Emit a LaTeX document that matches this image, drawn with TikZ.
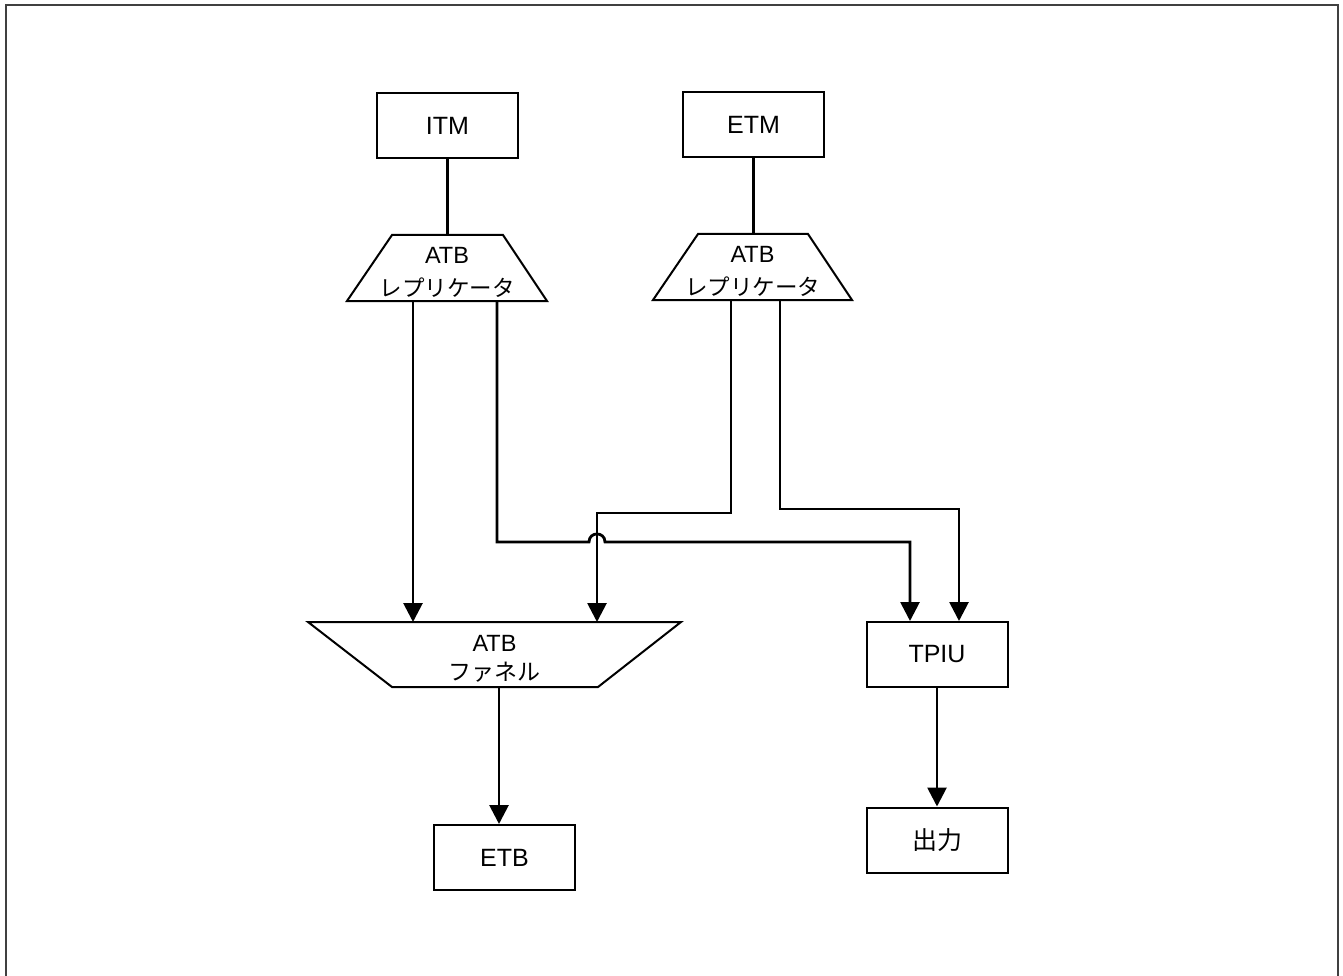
\documentclass[tikz,border=0pt]{standalone}
\usepackage{fontspec}
\setmainfont{Liberation Sans}
\newfontfamily\jpfont{Noto Sans CJK JP}
\usetikzlibrary{calc,arrows.meta}
\begin{document}
\begin{tikzpicture}[x=1pt,y=-1pt,
  box/.style={draw,line width=2pt,minimum width=141pt,minimum height=65pt,inner sep=0pt,font=\fontsize{25}{30}\selectfont},
  trap/.style={inner sep=0pt,align=center,font=\fontsize{23.5}{33}\selectfont},
  outline/.style={line width=2pt,line join=miter},
  conn/.style={line width=2.8pt},
  arr/.style={conn,-{Triangle[width=19pt,length=19pt]}}]
\useasboundingbox (0,0) rectangle (1343,976);
\draw[line width=2pt,color=black!75] (6,980) -- (6,5) -- (1338,5) -- (1338,980);
% nodes
\node[trap] (rep1) at (447,272) {ATB\\{\jpfont\fontsize{22.5}{33}\selectfont レプリケータ}};
\node[trap] (rep2) at (752.5,271) {ATB\\{\jpfont\fontsize{22.5}{33}\selectfont レプリケータ}};
\node[trap,font=\fontsize{23.5}{29}\selectfont] (funnel) at (494.5,659) {ATB\\{\jpfont\fontsize{23}{29}\selectfont ファネル}};
\node[box] (itm) at (447.5,126) {ITM};
\node[box] (etm) at (753.5,125) {ETM};
\node[box] (tpiu) at (937,654) {TPIU};
\node[box,font=\jpfont\fontsize{25}{30}\selectfont] (out) at (937,840) {出力};
\node[box] (etb) at (504.5,857.5) {ETB};
% trapezoid outlines
\draw[outline] ($(rep1.center)+(-55,-37)$) coordinate (rep1top) -- ($(rep1.center)+(56,-37)$) -- ($(rep1.center)+(100,29)$) -- ($(rep1.center)+(-100,29)$) -- cycle;
\draw[outline] ($(rep2.center)+(-54.5,-37)$) coordinate (rep2top) -- ($(rep2.center)+(55.5,-37)$) -- ($(rep2.center)+(99.5,29)$) -- ($(rep2.center)+(-99.5,29)$) -- cycle;
\draw[outline] ($(funnel.center)+(-186.5,-37)$) coordinate (funneltop) -- ($(funnel.center)+(186.5,-37)$) -- ($(funnel.center)+(103.5,28)$) -- ($(funnel.center)+(-102.5,28)$) -- cycle;
% connection points
\coordinate (r1a) at (413,301);
\coordinate (r1b) at (497,301);
\coordinate (r2a) at (731,300);
\coordinate (r2b) at (780,300);
\coordinate (f1) at (413,622);
\coordinate (f2) at (597,622);
\coordinate (t1) at (910,621);
\coordinate (t2) at (959,621);
\coordinate (fo) at (499,687);
% connectors
\draw[conn] (itm) -- (rep1top -| itm);
\draw[conn] (etm.south) -- (rep2top -| etm.south);
\draw[arr] (r1a) -- (f1);
\draw[arr] (r2a) -- (731,513) -- (597,513) -- (f2);
\draw[arr] (r1b) -- (497,542) -- (589,542) .. controls (589,531.3) and (605,531.3) .. (605,542) -- (910,542) -- (t1);
\draw[arr] (r2b) -- (780,509) -- (959,509) -- (t2);
\draw[arr] (fo) -- (fo |- etb.north);
\draw[arr] (tpiu) -- (out);
\end{tikzpicture}
\end{document}
